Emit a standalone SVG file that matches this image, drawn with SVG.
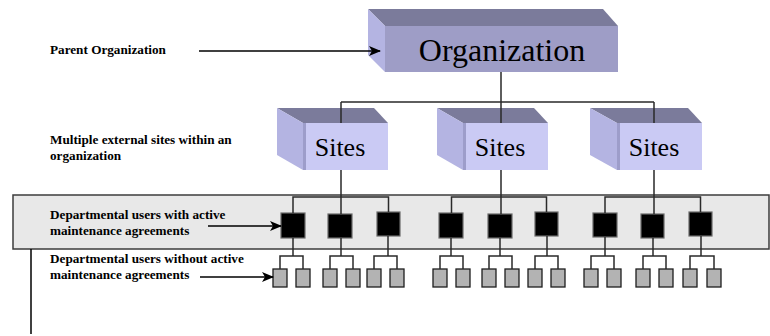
<svg xmlns="http://www.w3.org/2000/svg" width="770" height="336" viewBox="0 0 770 336">
  <defs>
    <marker id="arrow" markerWidth="12" markerHeight="10" refX="11" refY="5" orient="auto" markerUnits="userSpaceOnUse">
      <path d="M0,0 L12,5 L0,10 L3,5 z" fill="#000"/>
    </marker>
  </defs>
  <style>
    text { font-family: 'Liberation Serif', 'Times New Roman', serif; fill: #000; }
    .lbl { font-weight: bold; font-size: 13.2px; }
    .top { fill: #7b7b9b; }
    .side { fill: #b4b4e2; }
    .front-org { fill: #9e9dc6; }
    .front-site { fill: #cacaf4; }
    .shade { fill: #9d9dca; }
    .conn { fill: none; stroke: #2a2a2a; stroke-width: 1.5; }
    .arr { fill: none; stroke: #000; stroke-width: 1.5; }
    .dept { fill: #000; stroke: #6a6a6a; stroke-width: 1.2; }
    .user { fill: #b3b3b3; stroke: #1e1e1e; stroke-width: 1.3; }
  </style>

  <!-- maintenance band -->
  <rect id="band" x="13" y="195" width="756" height="54" fill="#e8e8e8" stroke="#3c3c3c" stroke-width="1.5"/>

  <!-- parent organization -->
  <g id="organization">
    <polygon class="top" points="368,9 603,9 618,26 385,26"/>
    <polygon class="side" points="368,9 385,26 385,72 368,55"/>
    <rect class="front-org" x="385" y="26" width="233" height="46"/>
    <text x="502" y="61" font-size="32" text-anchor="middle">Organization</text>
  </g>

  <!-- sites -->
  <g id="site-1">
    <polygon class="top" points="277,108 374,108 388,123 303,123"/>
    <polygon class="side" points="277,108 303,123 303,170 277,155"/>
    <rect class="front-site" x="303" y="123" width="85" height="47"/>
    <rect class="shade" x="303" y="123" width="3" height="47"/>
    <text x="340" y="156" font-size="26" text-anchor="middle">Sites</text>
  </g>
  <g id="site-2">
    <polygon class="top" points="437,108 534,108 548,123 463,123"/>
    <polygon class="side" points="437,108 463,123 463,170 437,155"/>
    <rect class="front-site" x="463" y="123" width="85" height="47"/>
    <rect class="shade" x="463" y="123" width="3" height="47"/>
    <text x="500" y="156" font-size="26" text-anchor="middle">Sites</text>
  </g>
  <g id="site-3">
    <polygon class="top" points="590,108 688,108 702,123 617,123"/>
    <polygon class="side" points="590,108 617,123 617,170 590,155"/>
    <rect class="front-site" x="617" y="123" width="85" height="47"/>
    <rect class="shade" x="617" y="123" width="3" height="47"/>
    <text x="654" y="156" font-size="26" text-anchor="middle">Sites</text>
  </g>

  <!-- departmental users with agreements -->
  <g id="departments">
    <rect class="dept" x="281" y="213" width="24" height="25"/>
    <rect class="dept" x="328" y="214" width="24" height="24"/>
    <rect class="dept" x="377" y="212" width="23" height="24"/>
    <rect class="dept" x="439" y="213" width="24" height="25"/>
    <rect class="dept" x="488" y="214" width="24" height="24"/>
    <rect class="dept" x="535" y="212" width="23" height="24"/>
    <rect class="dept" x="593" y="213" width="24" height="24"/>
    <rect class="dept" x="641" y="214" width="23" height="24"/>
    <rect class="dept" x="689" y="212" width="23" height="24"/>
  </g>

  <!-- departmental users without agreements -->
  <g id="users">
    <rect class="user" x="273" y="269" width="14" height="18"/>
    <rect class="user" x="296" y="269" width="14" height="18"/>
    <rect class="user" x="323" y="269" width="14" height="18"/>
    <rect class="user" x="346" y="269" width="14" height="18"/>
    <rect class="user" x="367" y="269" width="14" height="18"/>
    <rect class="user" x="390" y="269" width="14" height="18"/>
    <rect class="user" x="433" y="269" width="14" height="18"/>
    <rect class="user" x="456" y="269" width="14" height="18"/>
    <rect class="user" x="482" y="269" width="14" height="18"/>
    <rect class="user" x="505" y="269" width="14" height="18"/>
    <rect class="user" x="528" y="269" width="14" height="18"/>
    <rect class="user" x="551" y="269" width="14" height="18"/>
    <rect class="user" x="584" y="269" width="14" height="18"/>
    <rect class="user" x="607" y="269" width="14" height="18"/>
    <rect class="user" x="636" y="269" width="14" height="18"/>
    <rect class="user" x="659" y="269" width="14" height="18"/>
    <rect class="user" x="683" y="269" width="14" height="18"/>
    <rect class="user" x="707" y="269" width="14" height="18"/>
  </g>

  <!-- connectors, drawn over the boxes -->
  <g id="connectors">
    <!-- organization to sites -->
    <path class="conn" d="M501,72 V123 M341,102 H654 M341,102 V123 M654,102 V123"/>
    <!-- sites to departments -->
    <path class="conn" d="M341,170 V214 M293,213 V197 H388.5 V212"/>
    <path class="conn" d="M501,170 V214 M451.5,213 V197 H546.5 V212"/>
    <path class="conn" d="M654,170 V214 M605,213 V197 H700.5 V212"/>
    <!-- departments to users -->
    <path class="conn" d="M293,238 V256 M280,269 V256 H303 V269"/>
    <path class="conn" d="M341,238 V256 M330,269 V256 H353 V269"/>
    <path class="conn" d="M388,236 V256 M374,269 V256 H397 V269"/>
    <path class="conn" d="M451,238 V256 M440,269 V256 H463 V269"/>
    <path class="conn" d="M500,238 V256 M489,269 V256 H512 V269"/>
    <path class="conn" d="M547,236 V256 M535,269 V256 H558 V269"/>
    <path class="conn" d="M605,237 V256 M591,269 V256 H614 V269"/>
    <path class="conn" d="M653,238 V256 M643,269 V256 H666 V269"/>
    <path class="conn" d="M701,236 V256 M690,269 V256 H714 V269"/>
    <!-- label pointers -->
    <line class="arr" x1="199" y1="51" x2="380" y2="51" marker-end="url(#arrow)"/>
    <line class="arr" x1="208" y1="226" x2="281" y2="226" marker-end="url(#arrow)"/>
    <line class="arr" x1="200" y1="277" x2="273" y2="277" marker-end="url(#arrow)"/>
    <line x1="31" y1="249" x2="31" y2="334" stroke="#000" stroke-width="1.5"/>
  </g>

  <!-- level labels -->
  <g id="labels">
    <text class="lbl" x="50" y="54">Parent Organization</text>
    <text class="lbl" x="50" y="144">Multiple external sites within an</text>
    <text class="lbl" x="50" y="160">organization</text>
    <text class="lbl" x="50" y="219">Departmental users with active</text>
    <text class="lbl" x="50" y="235">maintenance agreements</text>
    <text class="lbl" x="50" y="263">Departmental users without active</text>
    <text class="lbl" x="50" y="279">maintenance agreements</text>
  </g>
</svg>
